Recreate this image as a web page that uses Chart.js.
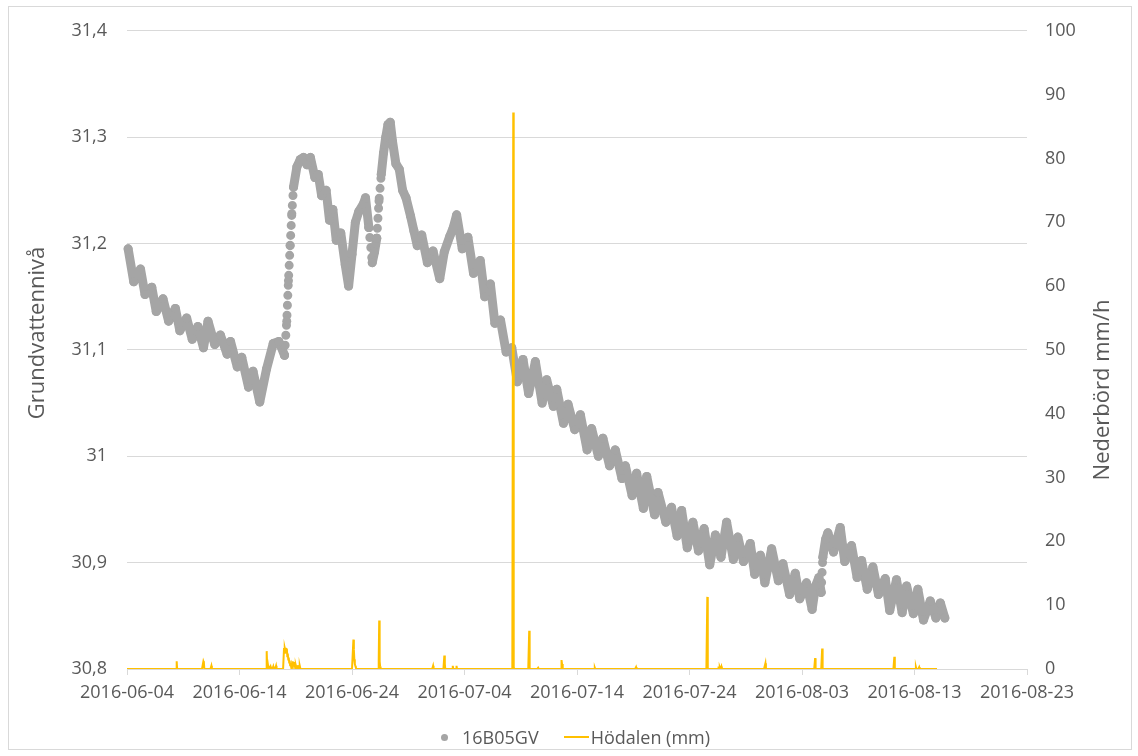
<!DOCTYPE html>
<html>
<head>
<meta charset="utf-8">
<script src="https://cdn.jsdelivr.net/npm/chart.js@4.4.1/dist/chart.umd.min.js"></script>
<style>
  body { margin: 0; background: #fff; font-family: "Open Sans", sans-serif; }
  #wrap { position: relative; width: 1138px; height: 756px; }
  #frame { position: absolute; left: 8px; top: 6px; width: 1124px; height: 744px; border: 1px solid #d9d9d9; box-sizing: border-box; pointer-events: none; }
  #legend { position: absolute; left: 441px; top: 725px; height: 24px; display: flex; align-items: center; font-size: 18px; line-height: 24px; color: #595959; white-space: nowrap; }
  #legend .dot { width: 7px; height: 7px; border-radius: 50%; background: #a5a5a5; margin-right: 14px; }
  #legend .ln { width: 25px; height: 2.5px; background: #ffc000; margin-left: 25px; margin-right: 2px; }
</style>
</head>
<body>
<div id="wrap">
  <canvas id="gwChart" width="1138" height="756"></canvas>
  <div id="frame"></div>
  <div id="legend"><span class="dot"></span><span>16B05GV</span><span class="ln"></span><span>Hödalen (mm)</span></div>
</div>
<script>
// x axis is "days since 2016-06-04"
const dateLabels = ["2016-06-04", "2016-06-14", "2016-06-24", "2016-07-04", "2016-07-14",
    "2016-07-24", "2016-08-03", "2016-08-13", "2016-08-23"];
const levelLabels = ["30,8", "30,9", "31", "31,1", "31,2", "31,3", "31,4"];
const rainLabels = ["0", "10", "20", "30", "40", "50", "60", "70", "80", "90", "100"];

// 16B05GV groundwater level (day, level)
const gwDay = [
    0.1, 0.6, 1.2, 1.6, 2.2, 2.6, 3.2, 3.7, 4.3, 4.7, 5.3, 5.8, 6.3, 6.8, 7.2, 7.8, 8.3, 8.9, 9.2, 9.8,
    10.2, 10.8, 11.2, 11.8, 12.4, 13.0, 13.5, 14.0, 14.2, 14.35, 14.5, 14.65, 14.8, 15.1, 15.4, 15.7,
    16.0, 16.3, 16.7, 17.0, 17.3, 17.7, 18.0, 18.3, 18.6, 19.0, 19.4, 19.7, 20.0, 20.3, 20.6, 21.0,
    21.2, 21.5, 21.8, 22.0, 22.2, 22.4, 22.6, 22.8, 23.0, 23.2, 23.4, 23.6, 23.9, 24.2, 24.5, 24.8,
    25.2, 25.5, 25.8, 26.2, 26.7, 27.2, 27.8, 28.2, 28.7, 29.0, 29.3, 29.8, 30.3, 30.8, 31.4, 31.8,
    32.3, 32.7, 33.2, 33.7, 34.2, 34.7, 35.2, 35.7, 36.3, 36.9, 37.3, 37.9, 38.2, 38.8, 39.2, 39.8,
    40.3, 40.9, 41.3, 41.9, 42.3, 42.9, 43.4, 44.0, 44.3, 44.9, 45.3, 45.9, 46.2, 46.9, 47.2, 47.9,
    48.4, 48.9, 49.3, 49.8, 50.3, 50.8, 51.3, 51.8, 52.3, 52.8, 53.3, 53.9, 54.3, 54.8, 55.4, 55.8,
    56.3, 56.7, 57.3, 57.9, 58.3, 58.9, 59.4, 59.8, 60.4, 60.9, 61.2, 61.5, 61.7, 61.85, 62.1, 62.3,
    62.8, 63.4, 63.8, 64.4, 64.9, 65.3, 65.8, 66.3, 66.8, 67.4, 67.8, 68.4, 68.9, 69.3, 69.9, 70.3,
    70.8, 71.4, 71.9, 72.3, 72.7
];
const gwLevel = [
    31.195, 31.164, 31.176, 31.152, 31.159, 31.136, 31.148, 31.127, 31.139, 31.118, 31.130, 31.110,
    31.122, 31.102, 31.127, 31.105, 31.114, 31.096, 31.108, 31.084, 31.093, 31.065, 31.080, 31.051,
    31.082, 31.106, 31.108, 31.095, 31.127, 31.165, 31.198, 31.228, 31.253, 31.272, 31.279, 31.281,
    31.274, 31.281, 31.262, 31.265, 31.245, 31.250, 31.222, 31.232, 31.203, 31.210, 31.180, 31.160,
    31.190, 31.220, 31.230, 31.237, 31.243, 31.215, 31.182, 31.192, 31.205, 31.240, 31.265, 31.285,
    31.300, 31.312, 31.314, 31.296, 31.275, 31.270, 31.250, 31.243, 31.226, 31.212, 31.198, 31.208,
    31.182, 31.193, 31.167, 31.192, 31.207, 31.215, 31.227, 31.195, 31.206, 31.172, 31.184, 31.150,
    31.162, 31.125, 31.128, 31.098, 31.102, 31.070, 31.091, 31.059, 31.089, 31.050, 31.072, 31.047,
    31.063, 31.031, 31.049, 31.025, 31.039, 31.006, 31.026, 31.000, 31.017, 30.991, 31.006, 30.979,
    30.991, 30.963, 30.984, 30.951, 30.981, 30.945, 30.966, 30.938, 30.952, 30.925, 30.949, 30.914,
    30.938, 30.911, 30.932, 30.898, 30.926, 30.905, 30.938, 30.903, 30.924, 30.901, 30.918, 30.889,
    30.907, 30.881, 30.913, 30.883, 30.899, 30.870, 30.890, 30.866, 30.881, 30.856, 30.878, 30.886,
    30.872, 30.905, 30.922, 30.928, 30.910, 30.933, 30.901, 30.916, 30.886, 30.902, 30.875, 30.896,
    30.870, 30.885, 30.855, 30.884, 30.853, 30.878, 30.852, 30.875, 30.846, 30.864, 30.848, 30.862,
    30.848
];

// Hödalen hourly rainfall (hour since 2016-06-04 00:00, mm); all other hours are 0
const rainHour = [
    106, 163, 164, 180, 298, 299, 301, 306, 312, 318,
    335, 336, 337, 338, 339, 340, 341, 342, 343, 344, 345, 346, 347, 348, 349, 350, 352, 353, 354,
    355, 356, 357, 358, 360, 361, 362, 364, 366, 369,
    483, 484, 485, 486, 487, 488, 537, 538, 539, 540, 653, 677, 678, 695, 703,
    824, 825, 858, 877, 927, 928, 998, 1086, 1238, 1262, 1265, 1268, 1362, 1468, 1483, 1637, 1683, 1690
];
const rainMm = [
    1.2, 1.2, 1.0, 0.5, 2.8, 0.6, 0.5, 0.4, 0.4, 0.5,
    3.3, 2.4, 3.3, 2.8, 3.3, 2.6, 3.2, 2.0, 2.4, 1.5, 1.8, 1.0, 1.3, 0.6, 0.9, 0.4, 0.8, 0.5, 1.2,
    0.6, 1.1, 0.5, 0.8, 0.6, 0.3, 0.5, 0.6, 0.4, 0.5,
    4.6, 3.0, 1.5, 0.8, 0.5, 0.3, 1.4, 7.6, 1.2, 0.4, 0.5, 2.1, 0.8, 0.5, 0.5,
    87.2, 0.3, 6.0, 0.2, 1.4, 0.8, 0.2, 0.3, 11.3, 0.4, 0.3, 0.4, 0.9, 1.7, 3.2, 1.9, 0.3, 0.3
];
const lastRainHour = 1730;

const GREY = "#A5A5A5";
const YELLOW = "#FFC000";
const TEXT = "#595959";
const GRID = "#D9D9D9";
const tickFont = { family: "Open Sans", size: 18 };

const gwPoints = gwDay.map((d, i) => ({ x: d, y: gwLevel[i] }));

const rainByHour = new Array(lastRainHour + 1).fill(0);
rainHour.forEach((h, i) => { rainByHour[h] = rainMm[i]; });
const rainPoints = rainByHour.map((v, h) => ({ x: h / 24, y: v }));

// fast rises/falls show up as separate hourly dots in the original
function steep(c) {
    const dx = Math.abs(c.p1.x - c.p0.x);
    const dy = Math.abs(c.p1.y - c.p0.y);
    return dy > 25 && dy > dx * 10;
}

const axisTitles = {
    id: "axisTitles",
    afterDraw(chart) {
        const c = chart.ctx;
        const draw = (text, x, y) => {
            c.save();
            c.fillStyle = TEXT;
            c.font = '22px "Open Sans"';
            c.textAlign = "center";
            c.textBaseline = "middle";
            c.translate(x, y);
            c.rotate(-Math.PI / 2);
            c.fillText(text, 0, 0);
            c.restore();
        };
        draw("Grundvattennivå", 38, 333);
        draw("Nederbörd mm/h", 1103, 390);
    }
};

new Chart(document.getElementById("gwChart").getContext("2d"), {
    type: "line",
    data: {
        datasets: [
            {
                label: "Hödalen (mm)",
                data: rainPoints,
                yAxisID: "y1",
                borderColor: YELLOW,
                borderWidth: 2,
                pointRadius: 0,
                tension: 0,
                order: 1
            },
            {
                label: "16B05GV",
                data: gwPoints,
                yAxisID: "y",
                borderColor: GREY,
                backgroundColor: GREY,
                borderWidth: 9,
                borderCapStyle: "round",
                borderJoinStyle: "round",
                pointRadius: 4.5,
                pointBorderWidth: 0,
                pointBackgroundColor: GREY,
                tension: 0,
                clip: false,
                order: 2,
                segment: {
                    borderDash: c => steep(c) ? [0, 10] : undefined
                }
            }
        ]
    },
    options: {
        responsive: false,
        animation: false,
        layout: { padding: { top: 22, bottom: 42, left: 0, right: 0 } },
        plugins: {
            legend: { display: false },
            tooltip: { enabled: false }
        },
        scales: {
            x: {
                type: "linear",
                min: 0,
                max: 80,
                afterFit: s => { s.height = 45; },
                ticks: {
                    stepSize: 10,
                    padding: 7,
                    maxRotation: 0,
                    autoSkip: false,
                    color: TEXT,
                    font: tickFont,
                    callback: v => dateLabels[Math.round(v / 10)]
                },
                grid: { drawOnChartArea: false, drawTicks: true, tickLength: 6, color: GRID },
                border: { color: GRID }
            },
            y: {
                type: "linear",
                position: "left",
                min: 30.8,
                max: 31.4,
                afterFit: s => { s.width = 127; },
                ticks: {
                    stepSize: 0.1,
                    padding: 20,
                    color: TEXT,
                    font: tickFont,
                    callback: v => levelLabels[Math.round((v - 30.8) * 10)]
                },
                grid: { color: GRID, drawTicks: false },
                border: { display: false }
            },
            y1: {
                type: "linear",
                position: "right",
                min: 0,
                max: 100,
                afterFit: s => { s.width = 111; },
                ticks: {
                    stepSize: 10,
                    padding: 18,
                    color: TEXT,
                    font: tickFont,
                    callback: v => rainLabels[Math.round(v / 10)]
                },
                grid: { drawOnChartArea: false, drawTicks: false },
                border: { display: false }
            }
        }
    },
    plugins: [axisTitles]
});
</script>
</body>
</html>
